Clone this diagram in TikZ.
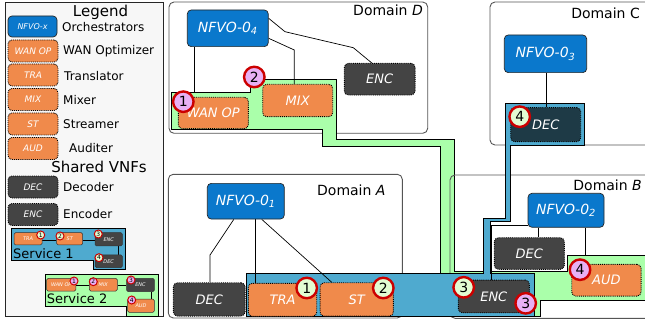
\documentclass[tikz,border=0pt]{standalone}
\usepackage{fontspec}
\setmainfont{DejaVu Sans}
\definecolor{nfvoblue}{HTML}{0A78CC}
\definecolor{vnforange}{HTML}{F08A4B}
\definecolor{vnfgray}{HTML}{444444}
\definecolor{decdark}{HTML}{1E3A46}
\definecolor{svcblue}{HTML}{4FAACF}
\definecolor{svcgreen}{HTML}{AAFFAA}
\definecolor{numgreen}{HTML}{E2FCD2}
\definecolor{numpink}{HTML}{E8B0F4}
\definecolor{numred}{HTML}{CC0000}
\definecolor{domgray}{HTML}{555555}
\definecolor{legendbg}{HTML}{F7F7F7}
\pgfdeclarelayer{frame}
\pgfdeclarelayer{under}
\pgfdeclarelayer{svcB}
\pgfdeclarelayer{domB}
\pgfdeclarelayer{svcA}
\pgfdeclarelayer{over}
\pgfsetlayers{frame,under,svcB,domB,svcA,over,main}
\tikzset{
  sz/.style 2 args={minimum width=#1pt, minimum height=#2pt},
  dom/.style={draw=domgray, line width=0.9pt, rounded corners=5pt},
  domlabel/.style={inner sep=0pt, font=\fontsize{14}{16}\selectfont},
  nfvo/.style={draw=black!85, line width=0.7pt, fill=nfvoblue, rounded corners=4pt,
    text=white, inner sep=0pt, font=\fontsize{14}{16}\selectfont\itshape},
  vnfbox/.style={draw=black, densely dotted, line width=0.9pt, rounded corners=4pt,
    text=white, inner sep=0pt, font=\fontsize{13}{15}\selectfont\itshape},
  orng/.style={vnfbox, fill=vnforange},
  dgray/.style={vnfbox, fill=vnfgray},
  lgfont/.style={font=\fontsize{9}{10}\selectfont\itshape},
  lgtext/.style={inner sep=0pt, anchor=west, font=\fontsize{12}{14}\selectfont},
  lghead/.style={inner sep=0pt, font=\fontsize{15}{17}\selectfont},
  num/.style={circle, draw=numred, line width=2.4pt, minimum size=20.5pt, inner sep=0pt,
    font=\fontsize{14}{14}\selectfont},
  numA/.style={num, fill=numgreen},
  numB/.style={num, fill=numpink},
  smbox/.style={draw=black!80, line width=0.5pt, rounded corners=1.5pt, text=white,
    inner sep=0pt, font=\fontsize{5}{5}\selectfont\itshape},
  smorng/.style={smbox, fill=vnforange},
  smgray/.style={smbox, fill=vnfgray},
  smnum/.style={circle, draw=numred, line width=1pt, minimum size=8pt, inner sep=0pt,
    font=\fontsize{6}{6}\selectfont},
  smnumA/.style={smnum, fill=numgreen},
  smnumB/.style={smnum, fill=numpink},
  link/.style={draw=black, line width=0.7pt},
  smlink/.style={draw=black, line width=1pt},
  pathA/.style={draw=black, line width=0.8pt, fill=svcblue},
  pathB/.style={draw=black, line width=0.8pt, fill=svcgreen},
  svclabel/.style={inner sep=0pt, anchor=base west, font=\fontsize{13}{15}\selectfont},
}
\begin{document}
\begin{tikzpicture}[x=1pt,y=-1pt]
\useasboundingbox (0,0) rectangle (645,326);
\clip (0,0) rectangle (645,326);

% ---------- legend ----------
\node[lghead] (lgTitle) at (100.5,12) {Legend};
\node[nfvo, sz={49}{21}, font=\fontsize{8}{9}\selectfont\itshape] (lgNF) at (32.5,26.5) {NFVO-x};
\node[lgtext] (lgOrch) at (62,27) {Orchestrators};
\node[orng, sz={50}{22}, lgfont] (lgWAN) at (33,51) {WAN OP};
\node[lgtext] (lgWANt) at (63,51) {WAN Optimizer};
\node[orng, sz={50}{22}, lgfont] (lgTRA) at (33,75) {TRA};
\node[lgtext] (lgTRAt) at (64,76) {Translator};
\node[orng, sz={50}{22}, lgfont] (lgMIX) at (33,99.5) {MIX};
\node[lgtext] (lgMIXt) at (63,100) {Mixer};
\node[orng, sz={50}{22}, lgfont] (lgST) at (33,124) {ST};
\node[lgtext] (lgSTt) at (63,124) {Streamer};
\node[orng, sz={50}{22}, lgfont] (lgAUD) at (33,148.5) {AUD};
\node[lgtext] (lgAUDt) at (69,148) {Auditer};
\node[lghead] (lgShared) at (99,167) {Shared VNFs};
\node[dgray, sz={50}{22}, lgfont] (lgDEC) at (33,187) {DEC};
\node[lgtext] (lgDECt) at (63,187) {Decoder};
\node[dgray, sz={50}{22}, lgfont] (lgENC) at (33,214.5) {ENC};
\node[lgtext] (lgENCt) at (63,214) {Encoder};

% service 1 sketch
\node[smorng, sz={28}{12.3}] (s1tra) at (28,238.8) {TRA};
\node[smorng, sz={26}{12.3}] (s1st) at (69.7,238.8) {ST};
\node[smgray, sz={27.3}{13.3}] (s1enc) at (108.7,239.3) {ENC};
\node[smgray, sz={27.3}{12.7}] (s1dec) at (108.7,261.3) {DEC};
\node[smnumA] (s1n1) at (40.7,235) {1};
\node[smnumA] (s1n2) at (60,236) {2};
\node[smnumA] (s1n3) at (98.3,234) {3};
\node[smnumA] (s1n4) at (99,257.7) {4};
\node[svclabel] (s1lab) at (13,258) {Service 1};

% service 2 sketch
\node[smorng, sz={29.3}{12.7}] (s2wan) at (61.3,284.7) {WAN OP};
\node[smorng, sz={28}{12.7}] (s2mix) at (103.3,284.7) {MIX};
\node[smgray, sz={27.6}{13.4}] (s2enc) at (140.5,285) {ENC};
\node[smorng, sz={26.6}{13.3}] (s2aud) at (141,305.7) {AUD};
\node[smnumB] (s2n1) at (74,281) {1};
\node[smnumB] (s2n2) at (93.3,281.7) {2};
\node[smnumB] (s2n3) at (131,280) {3};
\node[smnumB] (s2n4) at (131.7,300) {4};
\node[svclabel] (s2lab) at (46.7,303) {Service 2};

% ---------- domain D ----------
\node[domlabel, anchor=east] (labD) at (423,10) {Domain \textit{D}};
\node[nfvo, sz={81}{36.7}] (n4) at (227.8,28.3) {NFVO-0\textsubscript{4}};
\node[orng, sz={70}{31.4}] (wanop) at (213.3,113) {WAN OP};
\node[orng, sz={70}{32.4}] (mix) at (297.7,100.5) {MIX};
\node[dgray, sz={70.7}{31.7}] (encD) at (379.7,79.2) {ENC};

% ---------- domain C ----------
\node[domlabel, anchor=east] (labC) at (640,13) {Domain C};
\node[nfvo, sz={82.4}{37.7}] (n3) at (545.5,53.8) {NFVO-0\textsubscript{3}};
\node[vnfbox, fill=decdark, sz={70}{34}] (decC) at (545.7,124.7) {DEC};

% ---------- domain A ----------
\node[domlabel, anchor=east] (labA) at (385.7,190) {Domain \textit{A}};
\node[nfvo, sz={77}{35.7}] (n1) at (245.8,201.2) {NFVO-0\textsubscript{1}};
\node[dgray, sz={71.7}{33.3}] (decA) at (209.2,299.4) {DEC};
\node[orng, sz={68.4}{33}] (tra) at (282.5,299.8) {TRA};
\node[orng, sz={73.3}{33.3}] (st) at (356.7,299.4) {ST};

% ---------- domain B ----------
\node[domlabel, anchor=east] (labB) at (642,185) {Domain \textit{B}};
\node[nfvo, sz={76}{34}] (n2) at (566,210.3) {NFVO-0\textsubscript{2}};
\node[dgray, sz={70}{31.6}] (decB) at (529.3,253.5) {DEC};
\node[dgray, sz={71}{32.7}] (encB) at (493.8,296.4) {ENC};
\node[orng, sz={69.3}{31.7}] (aud) at (606.4,280.2) {AUD};

% ---------- order numbers along the services ----------
\node[numB] (d1) at (183.3,101.7) {1};
\node[numB] (d2) at (254.3,77) {2};
\node[numA] (a1) at (306.7,288) {1};
\node[numA] (a2) at (383.3,288) {2};
\node[numA] (b3a) at (463.7,287.3) {3};
\node[numB] (b3b) at (525.7,303.3) {3};
\node[numA] (c4) at (519.7,116.7) {4};
\node[numB] (b4) at (580,269.7) {4};

% ---------- frames ----------
\begin{pgfonlayer}{frame}
  \draw[draw=black!85, line width=0.8pt, fill=legendbg] (5.7,2) rectangle (163.3,316.5);
  \draw[pathA] (11.7,228.3) -- (125.7,228.3) -- (125.7,269.3) -- (93.3,269.3)
    -- (93.3,260.7) -- (11.7,260.7) -- cycle;
  \draw[pathB] (45,274) -- (158.3,274) -- (158.3,316) -- (126,316)
    -- (126,306.7) -- (45,306.7) -- cycle;
  \draw[dom] (169,2) rectangle (427.7,133.3);
  \draw[dom] (490,2) rectangle (670,145);
  \draw[dom] (168.3,174.3) rectangle (402.3,318);
\end{pgfonlayer}

% links that run under the service paths
\begin{pgfonlayer}{under}
  \draw[link] ([xshift=7pt]n4.south west) -- ([xshift=7pt]n4.south west |- wanop.north);
  \draw[link] ([xshift=19.7pt]n2.south) -- ([xshift=19.7pt]n2.south |- aud.north);
\end{pgfonlayer}

% service 2 path (domain D to domain B)
\begin{pgfonlayer}{svcB}
  \draw[pathB] (171,92.3) -- (250,92.3) -- (250,79.3) -- (336.7,79.3) -- (336.7,139.3)
    -- (454.3,139.3) -- (454.3,271.7) -- (567.7,271.7) -- (567.7,255) -- (660,255)
    -- (660,300) -- (540,300) -- (540,316.7) -- (440.3,316.7) -- (440.3,146.7)
    -- (322.7,146.7) -- (322.7,129.3) -- (171,129.3) -- cycle;
\end{pgfonlayer}

\begin{pgfonlayer}{domB}
  \draw[dom] (450,175) rectangle (670,318.3);
\end{pgfonlayer}

% service 1 path (domain A to domain C)
\begin{pgfonlayer}{svcA}
  \draw[pathA] (246.7,273.3) -- (483.3,273.3) -- (483.3,218) -- (505,218) -- (505,103.3)
    -- (584,103.3) -- (584,145) -- (510,145) -- (510,221.7) -- (490,221.7)
    -- (490,273.3) -- (534.3,273.3) -- (534.3,316.7) -- (246.7,316.7) -- cycle;
\end{pgfonlayer}

% orchestrator links and legend chains
\begin{pgfonlayer}{over}
  \coordinate (m1) at (294.3,50);
  \draw[link] ([yshift=-10pt]n4.east) -- (m1) -- (m1 |- mix.north);
  \coordinate (e1) at (285,31.7);
  \coordinate (e2) at (353.3,47.7);
  \draw[link] ([yshift=10pt]n4.east) -- (e1) -- (e2) -- ([xshift=-8pt]encD.north);
  \draw[link] ([xshift=1.2pt]n3.south) -- ([xshift=1.2pt]n3.south |- decC.north);
  \coordinate (k1) at (210,255);
  \draw[link] ([xshift=-12pt]n1.south) -- (k1) -- (k1 |- decA.north);
  \draw[link] ([xshift=9.2pt]n1.south) -- ([xshift=9.2pt]n1.south |- tra.north);
  \draw[link] ([xshift=16pt]n1.south) -- ([xshift=-25pt]st.north);
  \draw[link] ([xshift=-27.7pt]n2.south) -- ([xshift=-27.7pt]n2.south |- decB.north);
  \draw[link] ([yshift=2pt]n2.south west) -| ([xshift=-2pt]encB.north);
  \draw[smlink] (s1tra.east |- 0,240) -- (s1st.west |- 0,240);
  \draw[smlink] (s1st.east |- 0,240) -- (s1enc.west |- 0,240);
  \draw[smlink] ([xshift=-3.7pt]s1enc.south east) -- ([xshift=-3.7pt]s1dec.north east);
  \draw[smlink] (s2wan.east |- 0,285.7) -- (s2mix.west |- 0,285.7);
  \draw[smlink] (s2mix.east |- 0,285.7) -- (s2enc.west |- 0,285.7);
  \draw[smlink] ([xshift=-3.3pt]s2enc.south east) -- ([xshift=-3.3pt]s2aud.north east);
\end{pgfonlayer}
\end{tikzpicture}
\end{document}
